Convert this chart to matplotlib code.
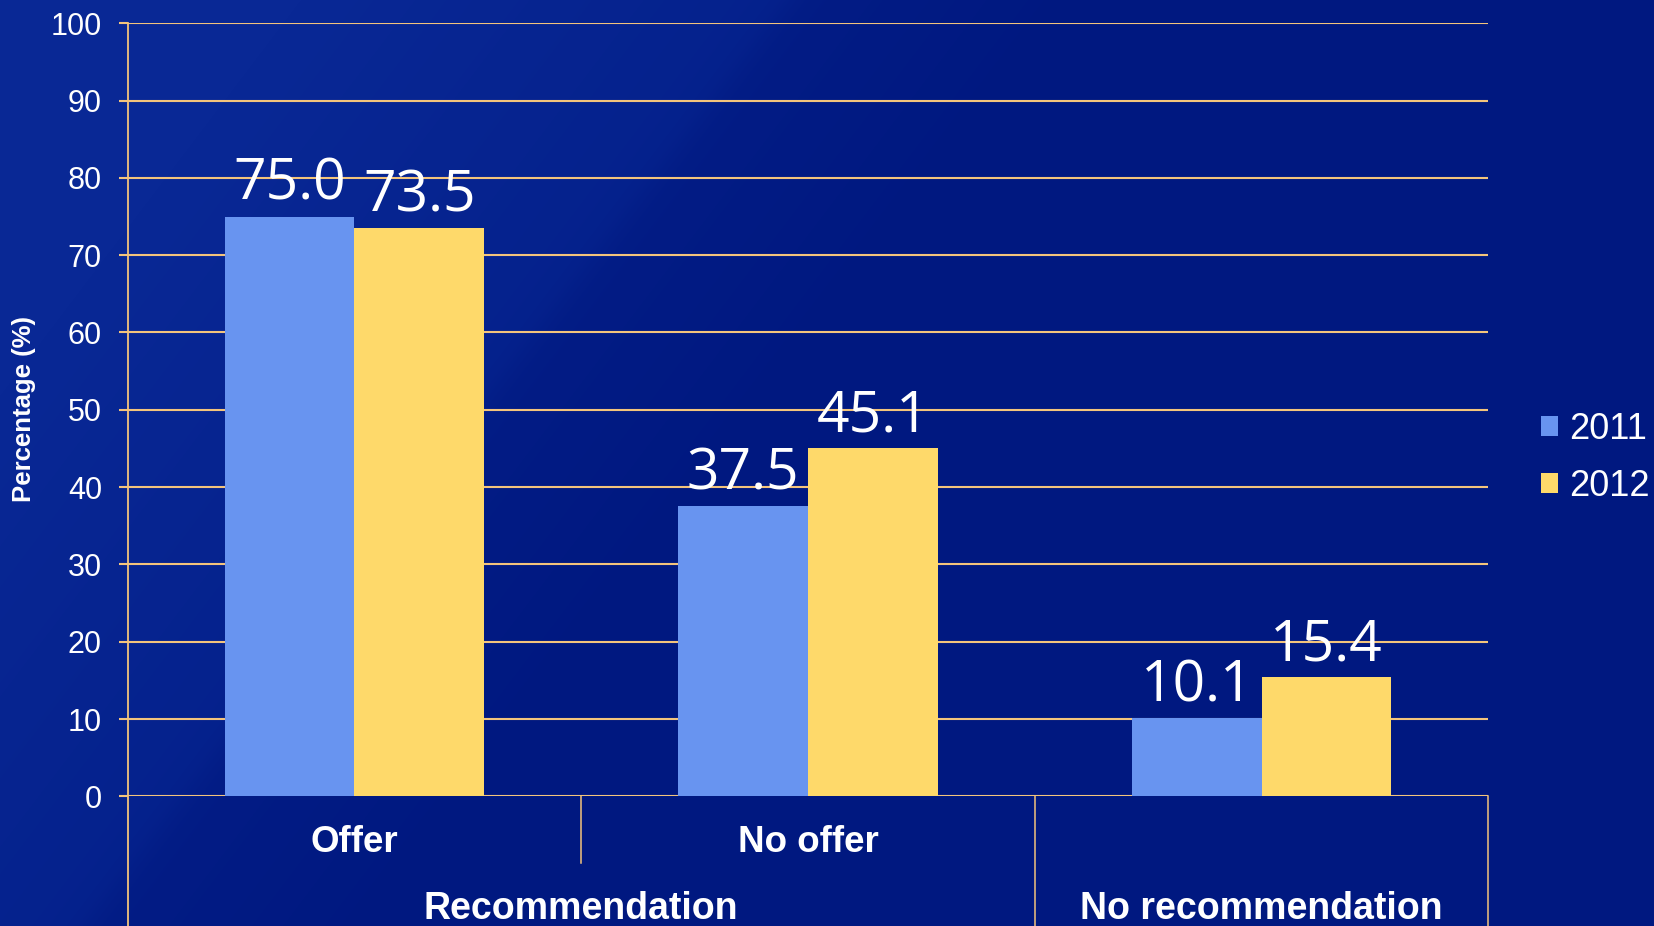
import numpy as np
import matplotlib
matplotlib.use("Agg")
import matplotlib.pyplot as plt
from matplotlib.transforms import blended_transform_factory

# Share of respondents by recommendation / offer status, 2011 vs 2012
categories = ["Offer", "No offer", "No recommendation"]
group_labels = ["Recommendation", "No recommendation"]
years = ["2011", "2012"]
values_2011 = [75.0, 37.5, 10.1]
values_2012 = [73.5, 45.1, 15.4]
yticks = [0, 10, 20, 30, 40, 50, 60, 70, 80, 90, 100]

BLUE = "#6894F0"
YELLOW = "#FED96A"
GOLD = "#F3C47C"
SANS = "Liberation Sans"

W, H = 1654, 926
fig = plt.figure(figsize=(W / 100, H / 100), dpi=100)

# ---------------------------------------------------------------------------
# Slide background: dark blue with a faint diagonal sheen on the left
# ---------------------------------------------------------------------------
yy, xx = np.mgrid[0:H, 0:W]
d = xx + 0.76 * yy
base = np.array([0, 24, 128]) / 255.0
glow = np.clip((1100 - d) / 800, 0, 1)
step = 1 / (1 + np.exp((d - 790) / 10))
img = (base[None, None, :]
       + glow[..., None] * np.array([7, 11, 14])[None, None, :] / 255.0
       + step[..., None] * np.array([2, 5, 7])[None, None, :] / 255.0)
bg = fig.add_axes([0, 0, 1, 1], zorder=-10)
bg.imshow(np.clip(img, 0, 1), aspect="auto", extent=(0, 1, 0, 1))
bg.axis("off")

# ---------------------------------------------------------------------------
# Bars
# ---------------------------------------------------------------------------
left, right = 127.6 / W, 1488.4 / W
bottom, top = 1 - 796.4 / H, 1 - 23.2 / H
ax = fig.add_axes([left, bottom, right - left, top - bottom])
ax.patch.set_alpha(0)

x = np.arange(len(categories))
w = 0.286
b1 = ax.bar(x - w / 2, values_2011, w, color=BLUE, label=years[0], zorder=3)
b2 = ax.bar(x + w / 2, values_2012, w, color=YELLOW, label=years[1], zorder=3)

for bars, vals in ((b1, values_2011), (b2, values_2012)):
    for rect, v in zip(bars, vals):
        ax.annotate(f"{v:.1f}", xy=(rect.get_x() + rect.get_width() / 2, v),
                    xytext=(0, 12), textcoords="offset points",
                    ha="center", va="baseline", color="white",
                    fontsize=41, family="Open Sans", zorder=5)

ax.set_xlim(-0.5, 2.5)
ax.set_ylim(0, 100)
ax.set_yticks(yticks)
ax.set_xticks([])
ax.yaxis.grid(True, color=GOLD, lw=1.5)
ax.set_axisbelow(True)
for s in ax.spines.values():
    s.set_visible(False)
ax.tick_params(axis="y", colors=GOLD, labelcolor="white", labelsize=22,
               length=6.5, width=1.5, pad=12)
for lbl in ax.get_yticklabels():
    lbl.set_family(SANS)

# ---------------------------------------------------------------------------
# Two-level category axis below the plot
# ---------------------------------------------------------------------------
trans = blended_transform_factory(ax.transData, ax.transAxes)
y_floor = (796.4 - H) / (796.4 - 23.2)
y_mid = (796.4 - 863) / (796.4 - 23.2)
ax.plot([-0.5, -0.5], [1, y_floor], transform=trans, clip_on=False,
        color=GOLD, lw=1.3)
ax.plot([0.5, 0.5], [0, y_mid], transform=trans, clip_on=False,
        color=GOLD, lw=1.1)
for xs in (1.5, 2.5):
    ax.plot([xs, xs], [0, y_floor], transform=trans, clip_on=False,
            color=GOLD, lw=1.1)

y_cat = (796.4 - 842) / (796.4 - 23.2)
y_grp = (796.4 - 909) / (796.4 - 23.2)
for xi, cat in zip(x[:2], categories[:2]):
    ax.text(xi, y_cat, cat, transform=trans, ha="center", va="center",
            color="white", fontsize=26.5, weight="bold", family=SANS)
ax.text(0.5, y_grp, group_labels[0], transform=trans, ha="center",
        va="center", color="white", fontsize=27, weight="bold", family=SANS)
ax.text(2, y_grp, group_labels[1], transform=trans, ha="center",
        va="center", color="white", fontsize=27, weight="bold", family=SANS)

fig.text(24 / W, 1 - 409 / H, "Percentage (%)", rotation=90, ha="center",
         va="center", color="white", fontsize=18.5, weight="bold", family=SANS)

# Legend
leg = fig.legend(handles=[b1, b2], loc="center left",
                 bbox_to_anchor=(1541 / W, 1 - 458 / H), frameon=False,
                 handlelength=0.48, handleheight=0.48,
                 handletextpad=0.3, labelspacing=0.62, borderpad=0,
                 borderaxespad=0, prop={"family": SANS, "size": 26})
for t in leg.get_texts():
    t.set_color("white")

fig.savefig("out.png", dpi=100)
